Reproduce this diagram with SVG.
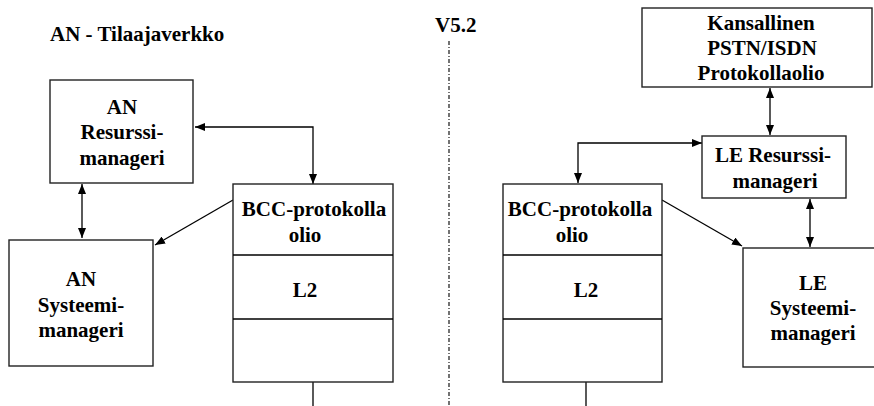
<svg xmlns="http://www.w3.org/2000/svg" width="874" height="406" viewBox="0 0 874 406">
<style>
.box{fill:#fff;stroke:#222;stroke-width:1.4}
.ln{fill:none;stroke:#000;stroke-width:1.3}
.c{text-anchor:middle}
</style>
<defs>
<marker id="ah" markerUnits="userSpaceOnUse" markerWidth="10" markerHeight="8" refX="10" refY="4" orient="auto-start-reverse">
<path d="M0,0 L10,4 L0,8 z" fill="#000"/>
</marker>
</defs>
<rect width="874" height="406" fill="#fff"/>
<g font-family="'Liberation Serif', 'Times New Roman', Times, serif" font-weight="bold" font-size="21" fill="#000">
<text id="title" x="50" y="41">AN - Tilaajaverkko</text>
<text id="v52" x="435" y="32">V5.2</text>
</g>
<line x1="449" y1="41" x2="449" y2="406" stroke="#000" stroke-width="1.1" stroke-dasharray="4,2,1,2"/>
<g id="connectors">
<polyline class="ln" points="313,184 313,127 195,127" marker-start="url(#ah)" marker-end="url(#ah)"/>
<line class="ln" x1="82" y1="184" x2="82" y2="238" marker-start="url(#ah)" marker-end="url(#ah)"/>
<line class="ln" x1="233" y1="200" x2="155" y2="245" marker-end="url(#ah)"/>
<line class="ln" x1="313" y1="382" x2="313" y2="406"/>
<line class="ln" x1="770" y1="88" x2="770" y2="135" marker-start="url(#ah)" marker-end="url(#ah)"/>
<polyline class="ln" points="578,183 578,143 702,143" marker-start="url(#ah)" marker-end="url(#ah)"/>
<line class="ln" x1="810" y1="199" x2="810" y2="247" marker-start="url(#ah)" marker-end="url(#ah)"/>
<line class="ln" x1="662" y1="200" x2="742" y2="246" marker-end="url(#ah)"/>
<line class="ln" x1="586" y1="382" x2="586" y2="406"/>
</g>
<g font-family="'Liberation Serif', 'Times New Roman', Times, serif" font-weight="bold" font-size="21" fill="#000" text-anchor="middle">
<g id="an-resurssi">
<rect class="box" x="50" y="80" width="143" height="103"/>
<text x="122" y="114">AN</text>
<text x="122" y="139">Resurssi-</text>
<text x="122" y="165">manageri</text>
</g>
<g id="an-systeemi">
<rect class="box" x="9" y="240" width="144" height="126"/>
<text x="81" y="286">AN</text>
<text x="81" y="312">Systeemi-</text>
<text x="81" y="337">manageri</text>
</g>
<g id="an-bcc">
<rect class="box" x="233" y="184" width="160" height="198"/>
<line class="ln" x1="233" y1="255" x2="393" y2="255"/>
<line class="ln" x1="233" y1="319" x2="393" y2="319"/>
<text x="314" y="216">BCC-protokolla</text>
<text x="305" y="242">olio</text>
<text x="305" y="297">L2</text>
</g>
<g id="kansallinen">
<rect class="box" x="642" y="8" width="230" height="79"/>
<text x="761" y="30">Kansallinen</text>
<text x="762" y="55">PSTN/ISDN</text>
<text x="761" y="80">Protokollaolio</text>
</g>
<g id="le-resurssi">
<rect class="box" x="702" y="136" width="144" height="62"/>
<text x="773" y="162">LE Resurssi-</text>
<text x="775" y="188">manageri</text>
</g>
<g id="le-bcc">
<rect class="box" x="503" y="184" width="159" height="198"/>
<line class="ln" x1="503" y1="255" x2="662" y2="255"/>
<line class="ln" x1="503" y1="319" x2="662" y2="319"/>
<text x="580" y="216">BCC-protokolla</text>
<text x="572" y="242">olio</text>
<text x="586" y="297">L2</text>
</g>
<g id="le-systeemi">
<rect class="box" x="743" y="248" width="135" height="119"/>
<text x="813" y="290">LE</text>
<text x="813" y="315">Systeemi-</text>
<text x="813" y="340">manageri</text>
</g>
</g>
</svg>
